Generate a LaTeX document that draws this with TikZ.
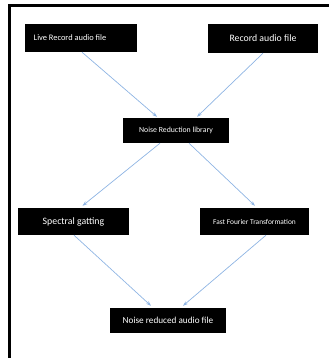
\documentclass[tikz,border=0pt]{standalone}
\usepackage{fontspec}
\setmainfont{Carlito}
\usetikzlibrary{calc,positioning,arrows.meta}
\definecolor{flowblue}{HTML}{8EB4E3}

\begin{document}
\begin{tikzpicture}[
  x=1pt,y=-1pt,
  block/.style={fill=black,text=white,inner sep=0pt},
  flow/.style={color=flowblue,line width=.7pt,-{Stealth[length=5pt,width=3.5pt]}},
  frame/.style={line width=2.2pt,color=black},
  ]

  \useasboundingbox (0,0) rectangle (329,358);

  \draw[frame] (9.5,358) -- (9.5,5.5) -- (329,5.5);

  \node (live) [block,minimum width=112pt,minimum height=28pt,font=\fontsize{8.4}{10}\selectfont] at(81,38) {\hspace*{-22pt}Live Record audio file};
  \node (rec) [block,minimum width=110pt,minimum height=29pt,font=\fontsize{9.8}{11}\selectfont] at(263,38.5) {Record audio file};

  \node (nrl) [block,minimum width=106pt,minimum height=25pt,font=\fontsize{7.8}{9}\selectfont] at(176,130.5) {Noise Reduction library};

  \node (spec) [block,minimum width=111pt,minimum height=27pt,font=\fontsize{9.8}{11}\selectfont] at(73.5,221.5) {Spectral gatting};
  \node (fft) [block,minimum width=109pt,minimum height=27pt,font=\fontsize{7.4}{9}\selectfont] at(254.5,221.5) {Fast Fourier Transformation};

  \node (out) [block,minimum width=116pt,minimum height=25pt,font=\fontsize{9.2}{11}\selectfont] at(168,320.5) {Noise reduced audio file};

  \draw[flow] ($(live.south)+(1,0)$) -- ($(nrl.north)+(-19,-1)$);
  \draw[flow] (rec.south) -- ($(nrl.north)+(21,-1)$);
  \draw[flow] ($(nrl.south)+(-16,0)$) -- ($(spec.north)+(9,-2)$);
  \draw[flow] ($(nrl.south)+(13,0)$) -- ($(fft.north)+(0.5,-2)$);
  \draw[flow] ($(spec.south)+(0.5,0)$) -- ($(out.north)+(-17,-2)$);
  \draw[flow] ($(fft.south)+(11.5,0)$) -- ($(out.north)+(15,-2)$);

\end{tikzpicture}
\end{document}
